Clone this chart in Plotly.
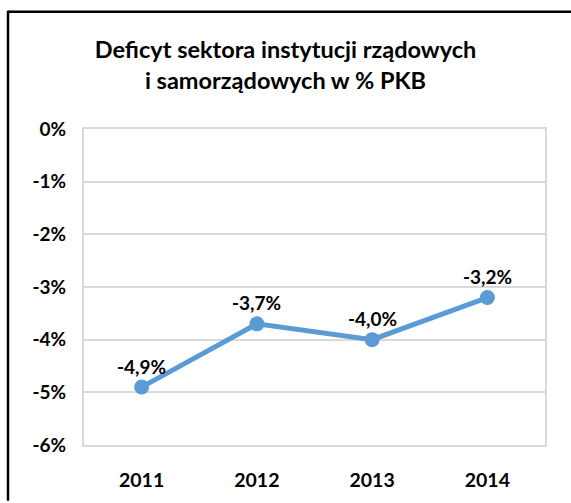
import plotly.graph_objects as go

years = ["2011", "2012", "2013", "2014"]
deficit = [-4.9, -3.7, -4.0, -3.2]
labels = ["-4,9%", "-3,7%", "-4,0%", "-3,2%"]
y_ticks = [0, -1, -2, -3, -4, -5, -6]
y_tick_labels = ["0%", "-1%", "-2%", "-3%", "-4%", "-5%", "-6%"]

FONT = "Lato"
W, H = 571, 503
L, R, T, B = 84, 26, 129, 56
pw, ph = W - L - R, H - T - B

fig = go.Figure()
fig.add_trace(go.Scatter(
    x=years, y=deficit, mode="lines+markers",
    line=dict(color="#5B9BD5", width=5),
    marker=dict(color="#5B9BD5", size=15),
    cliponaxis=False, hoverinfo="skip",
))

annotations = [
    dict(x=i, y=yv, text=f"<b>{t}</b>", showarrow=False, xref="x", yref="y",
         yshift=21, font=dict(family=FONT, size=19, color="#000000"))
    for i, (yv, t) in enumerate(zip(deficit, labels))
]

def px_to_paper_x(px):
    return (px - L) / pw

def px_to_paper_y(py):
    return (H - B - py) / ph

border = dict(color="#000000", width=2.5)
fig.update_layout(
    width=W, height=H,
    margin=dict(l=L, r=R, t=T, b=B),
    paper_bgcolor="white", plot_bgcolor="white",
    showlegend=False,
    annotations=annotations,
    title=dict(
        text="<b>Deficyt sektora instytucji rządowych<br>i samorządowych w % PKB</b>",
        x=0.5, xanchor="center", xref="container",
        y=1 - 58 / H, yanchor="middle",
        font=dict(family=FONT, size=23.5, color="#000000"),
    ),
    xaxis=dict(
        type="category", range=[-0.5, 3.5],
        showgrid=False, showline=True, linecolor="#d9d9d9", linewidth=2,
        mirror=True, ticks="", ticklabelstandoff=17,
        tickfont=dict(family=FONT, size=19.5, color="#000000", weight="bold"),
        fixedrange=True,
    ),
    yaxis=dict(
        range=[-6, 0], tickvals=y_ticks, ticktext=y_tick_labels,
        showgrid=True, gridcolor="#d9d9d9", gridwidth=2,
        showline=True, linecolor="#d9d9d9", linewidth=2, mirror=True,
        zeroline=False, ticks="", ticklabelstandoff=12,
        tickfont=dict(family=FONT, size=19, color="#000000", weight="bold"),
        fixedrange=True,
    ),
    shapes=[
        dict(type="line", xref="paper", yref="paper",
             x0=px_to_paper_x(8), x1=px_to_paper_x(W),
             y0=px_to_paper_y(11), y1=px_to_paper_y(11), line=border, layer="above"),
        dict(type="line", xref="paper", yref="paper",
             x0=px_to_paper_x(8), x1=px_to_paper_x(8),
             y0=px_to_paper_y(10), y1=px_to_paper_y(H), line=border, layer="above"),
    ],
)

fig.write_html("out.html", config={"displayModeBar": False},
               post_script="document.body.style.margin='0';")
